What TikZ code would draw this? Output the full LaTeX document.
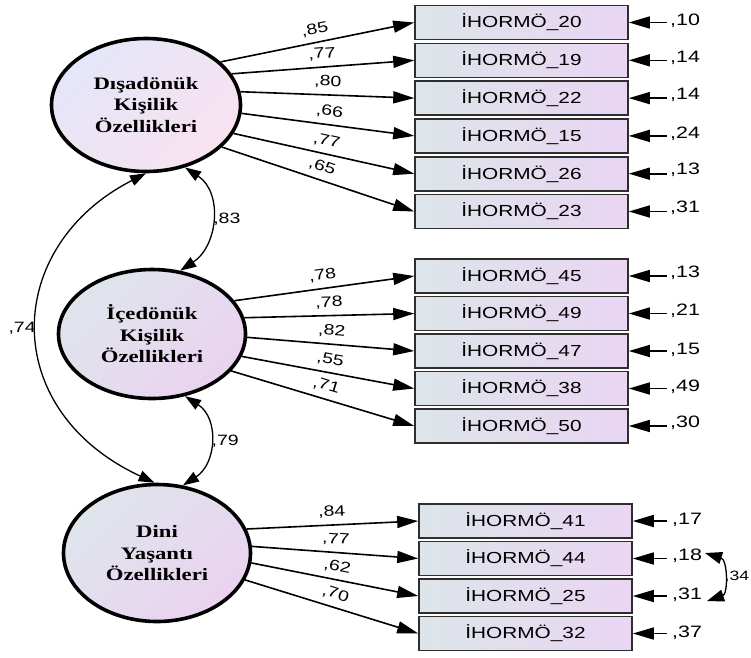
\documentclass[tikz,border=0pt]{standalone}
\usepackage{fontspec}
\setmainfont{Liberation Sans}
\newfontfamily\labfont[FakeStretch=1.3]{Liberation Sans}
\newfontfamily\ellfont[FakeStretch=1.3]{Liberation Serif}
\usetikzlibrary{shapes.geometric,arrows.meta}
\definecolor{eoneA}{HTML}{E4E6F8}
\definecolor{eoneB}{HTML}{F8E2F0}
\definecolor{etwoA}{HTML}{DFE5EC}
\definecolor{etwoB}{HTML}{EAD3F0}
\definecolor{boxA}{HTML}{DCE5E9}
\definecolor{boxB}{HTML}{EAD5F3}
\definecolor{boxline}{HTML}{2E2E2E}
\begin{document}
\begin{tikzpicture}[x=1pt,y=-1pt,
  latent/.style={ellipse, draw=black, line width=3.6pt, inner sep=0pt, align=center,
    font=\ellfont\bfseries\fontsize{17.5}{21.5}\selectfont},
  latone/.style={latent, top color=eoneA, bottom color=eoneB, shading angle=45},
  lattwo/.style={latent, top color=etwoA, bottom color=etwoB, shading angle=45},
  obs/.style={rectangle, draw=boxline, line width=1.6pt, minimum width=213pt, minimum height=34pt,
    inner sep=0pt, left color=boxA, right color=boxB, font=\labfont\fontsize{16}{19}\selectfont},
  errlab/.style={anchor=west, inner xsep=3pt, inner ysep=1pt, font=\labfont\fontsize{16.5}{18}\selectfont},
  load/.style={line width=1.6pt, -{Triangle[length=21pt,width=12pt]}},
  ldlab/.style={sloped, above=6pt, pos=0.5, inner sep=0pt, font=\labfont\fontsize{15}{16}\selectfont},
  err/.style={line width=1.6pt, -{Triangle[length=21pt,width=12pt]}},
  cov/.style={line width=1.3pt, {Triangle[length=16pt,width=11pt]}-{Triangle[length=16pt,width=11pt]}},
  covlab/.style={inner sep=1.5pt, font=\labfont\fontsize{15}{16}\selectfont}
]
\fill[white] (0,0) rectangle (751,657);
\useasboundingbox (0,0) rectangle (751,657);

% latent variables
\node[latone, minimum width=189pt, minimum height=133pt] (e1) at (146,105) {Dışadönük\\Kişilik\\Özellikleri};
\node[lattwo, minimum width=187pt, minimum height=129pt] (e2) at (152,334) {İçedönük\\Kişilik\\Özellikleri};
\node[lattwo, minimum width=187pt, minimum height=137pt] (e3) at (157,553) {Dini\\Yaşantı\\Özellikleri};

% observed group 1
\node[obs] (b20) at (521.5,22.5) {İHORMÖ\_20};
\node[obs] (b19) at (521.5,60.3) {İHORMÖ\_19};
\node[obs] (b22) at (521.5,98.1) {İHORMÖ\_22};
\node[obs] (b15) at (521.5,135.9) {İHORMÖ\_15};
\node[obs] (b26) at (521.5,173.7) {İHORMÖ\_26};
\node[obs] (b23) at (521.5,211.5) {İHORMÖ\_23};
% group 2
\node[obs] (b45) at (521.5,276) {İHORMÖ\_45};
\node[obs] (b49) at (521.5,313.5) {İHORMÖ\_49};
\node[obs] (b47) at (521.5,351) {İHORMÖ\_47};
\node[obs] (b38) at (521.5,388.5) {İHORMÖ\_38};
\node[obs] (b50) at (521.5,426) {İHORMÖ\_50};
% group 3
\node[obs] (b41) at (525.5,521) {İHORMÖ\_41};
\node[obs] (b44) at (525.5,558.5) {İHORMÖ\_44};
\node[obs] (b25) at (525.5,596) {İHORMÖ\_25};
\node[obs] (b32) at (525.5,633.5) {İHORMÖ\_32};

% loadings
\draw[load] (e1.30) -- node[ldlab] {,85} (b20.west);
\draw[load] (e1.20) -- node[ldlab] {,77} (b19.west);
\draw[load] (e1.8) -- node[ldlab] {,80} (b22.west);
\draw[load] (e1.-5) -- node[ldlab] {,66} (b15.west);
\draw[load] (e1.-18) -- node[ldlab] {,77} (b26.west);
\draw[load] (e1.-29) -- node[ldlab] {,65} (b23.west);

\draw[load] (e2.22) -- node[ldlab] {,78} (b45.west);
\draw[load] (e2.10) -- node[ldlab] {,78} (b49.west);
\draw[load] (e2.-2) -- node[ldlab] {,82} (b47.west);
\draw[load] (e2.-14) -- node[ldlab] {,55} (b38.west);
\draw[load] (e2.-25) -- node[ldlab] {,71} (b50.west);

\draw[load] (e3.15) -- node[ldlab] {,84} (b41.west);
\draw[load] (e3.4) -- node[ldlab] {,77} (b44.west);
\draw[load] (e3.-6) -- node[ldlab] {,62} (b25.west);
\draw[load] (e3.-17) -- node[ldlab] {,70} (b32.west);

% error variances
\node[errlab] (r20) at (667,21) {,10};
\node[errlab] (r19) at (667,58) {,14};
\node[errlab] (r22) at (667,95) {,14};
\node[errlab] (r15) at (667,134) {,24};
\node[errlab] (r26) at (667,170) {,13};
\node[errlab] (r23) at (667,208) {,31};
\node[errlab] (r45) at (667,273) {,13};
\node[errlab] (r49) at (667,311) {,21};
\node[errlab] (r47) at (667,350) {,15};
\node[errlab] (r38) at (667,387) {,49};
\node[errlab] (r50) at (667,423) {,30};
\node[errlab, inner xsep=5pt] (r41) at (667,520) {,17};
\node[errlab, inner xsep=5pt] (r44) at (667,556) {,18};
\node[errlab, inner xsep=5pt] (r25) at (667,595) {,31};
\node[errlab, inner xsep=5pt] (r32) at (667,633) {,37};

\foreach \b in {20,19,22,15,26,23,45,49,47,38,50,41,44,25,32}
  \draw[err] (r\b.west |- b\b.east) -- (b\b.east);

% covariances between latent variables
\draw[cov] (e1.-58) .. controls +(38,25) and +(38,-25) .. node[covlab, right] {,83} (e2.66);
\draw[cov] (e2.-62) .. controls +(34,22) and +(34,-22) .. node[covlab, right] {,79} (e3.69);
\draw[cov] (e1.-90) .. controls +(-143,73) and +(-157,-73) .. node[covlab, left] {,74} (e3.92);

% error covariance
\coordinate (c44) at (705,553);
\coordinate (c25) at (707,601);
\draw[cov, {Triangle[length=17pt,width=12pt]}-{Triangle[length=17pt,width=12pt]}] (c44) .. controls (728,560) and (728,594) .. node[covlab, right, inner sep=1.5pt, font=\labfont\fontsize{13.5}{15}\selectfont] {,34} (c25);
\end{tikzpicture}
\end{document}
